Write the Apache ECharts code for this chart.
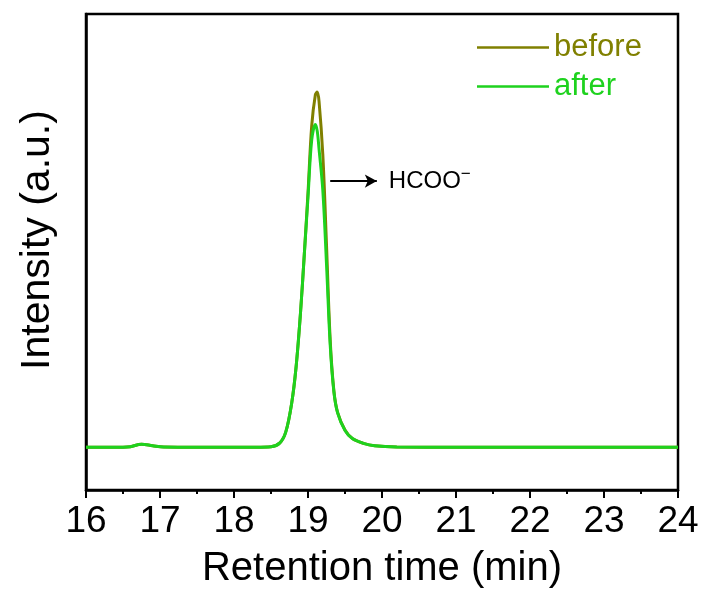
<!DOCTYPE html>
<html>
<head>
<meta charset="utf-8">
<script src="https://cdn.jsdelivr.net/npm/echarts@6/dist/echarts.min.js"></script>
<style>
  html, body { margin: 0; padding: 0; background: #fff; }
  #chart { width: 702px; height: 591px; }
</style>
</head>
<body>
<div id="chart"></div>
<script>
// retention time (min), shared by both traces
var retentionTime = [16.0, 16.3, 16.5, 16.6, 16.75, 16.9, 17.05, 17.5, 18.0, 18.3, 18.5, 18.62, 18.7, 18.78, 18.84, 18.9, 18.95, 19.0, 19.05, 19.1, 19.125, 19.15, 19.2, 19.25, 19.3, 19.35, 19.4, 19.5, 19.6, 19.75, 19.9, 20.2, 21.0, 22.0, 23.0, 24.0]
var beforeIntensity = [9.0, 9.0, 9.0, 9.1, 9.6, 9.3, 9.05, 9.0, 9.0, 9.0, 9.1, 9.9, 12.2, 18.3, 26.0, 37.5, 49.5, 62.5, 76.5, 83.1, 83.6, 81.5, 70.5, 51.5, 31.5, 20.8, 16.3, 12.6, 10.8, 9.8, 9.3, 9.05, 9.0, 9.0, 9.0, 9.0]
var afterIntensity = [9.0, 9.0, 9.0, 9.1, 9.6, 9.3, 9.05, 9.0, 9.0, 9.0, 9.1, 9.9, 12.2, 18.3, 26.0, 37.5, 49.5, 61.5, 73.5, 76.8, 75.4, 71.5, 63.0, 47.5, 30.5, 20.6, 16.2, 12.5, 10.8, 9.8, 9.3, 9.05, 9.0, 9.0, 9.0, 9.0]
var seriesNames = ['before', 'after']
var seriesColors = ['#808000', '#1ed21e']
// arrow pointing to the peak label
var arrowStart = [19.3, 64.9]
var arrowEnd = [19.93, 64.9]

function pairs(xs, ys) {
  return xs.map(function (x, i) { return [x, ys[i]] })
}

var chart = echarts.init(document.getElementById('chart'))
var font = 'Liberation Sans, Arial, sans-serif'

var option = {
  animation: false,
  textStyle: { fontFamily: font },
  grid: {
    left: 86, top: 14, right: 24, bottom: 101,
    containLabel: false, outerBoundsMode: 'none',
    show: true, borderColor: '#000', borderWidth: 2.5
  },
  legend: {
    orient: 'vertical',
    left: 472, top: 27,
    itemWidth: 72, itemHeight: 2.5, itemGap: 8,
    icon: 'rect',
    data: seriesNames.map(function (n, i) {
      return { name: n, textStyle: { color: seriesColors[i] } }
    }),
    textStyle: { fontSize: 31, fontFamily: font }
  },
  xAxis: {
    type: 'value', min: 16, max: 24, interval: 1,
    name: 'Retention time (min)', nameLocation: 'middle', nameGap: 59,
    nameTextStyle: { fontSize: 40, color: '#000', fontFamily: font },
    axisLine: { lineStyle: { color: '#000', width: 2.5 } },
    axisTick: { length: 8, lineStyle: { color: '#000', width: 2 } },
    minorTick: { show: true, splitNumber: 2, length: 4, lineStyle: { color: '#000', width: 2 } },
    axisLabel: { fontSize: 37, color: '#000', margin: 13, fontFamily: font },
    splitLine: { show: false }
  },
  yAxis: {
    type: 'value', min: 0, max: 100,
    name: 'Intensity (a.u.)', nameLocation: 'middle', nameGap: 28,
    nameTextStyle: { fontSize: 41, color: '#000', fontFamily: font, padding: [0, 0, 0, 24] },
    axisLine: { show: true, lineStyle: { color: '#000', width: 2.5 } },
    axisTick: { show: false },
    axisLabel: { show: false },
    splitLine: { show: false }
  },
  series: [
    {
      name: seriesNames[0], type: 'line',
      data: pairs(retentionTime, beforeIntensity),
      showSymbol: false, smooth: 0.35,
      color: seriesColors[0],
      lineStyle: { width: 3, color: seriesColors[0] },
      markLine: {
        silent: true,
        symbol: ['none', 'arrow'], symbolSize: [10, 12],
        lineStyle: { color: '#000', width: 2, type: 'solid' },
        label: {
          show: true, position: 'end', distance: 12,
          formatter: '{a|HCOO}{b|−}',
          rich: {
            a: { fontSize: 24, color: '#000', fontFamily: font },
            b: { fontSize: 17, color: '#000', fontFamily: font, verticalAlign: 'bottom', padding: [0, 0, 14, 0] }
          }
        },
        data: [[{ coord: arrowStart }, { coord: arrowEnd }]]
      }
    },
    {
      name: seriesNames[1], type: 'line',
      data: pairs(retentionTime, afterIntensity),
      showSymbol: false, smooth: 0.35,
      color: seriesColors[1],
      lineStyle: { width: 3, color: seriesColors[1] }
    }
  ]
}

chart.setOption(option)
</script>
</body>
</html>
